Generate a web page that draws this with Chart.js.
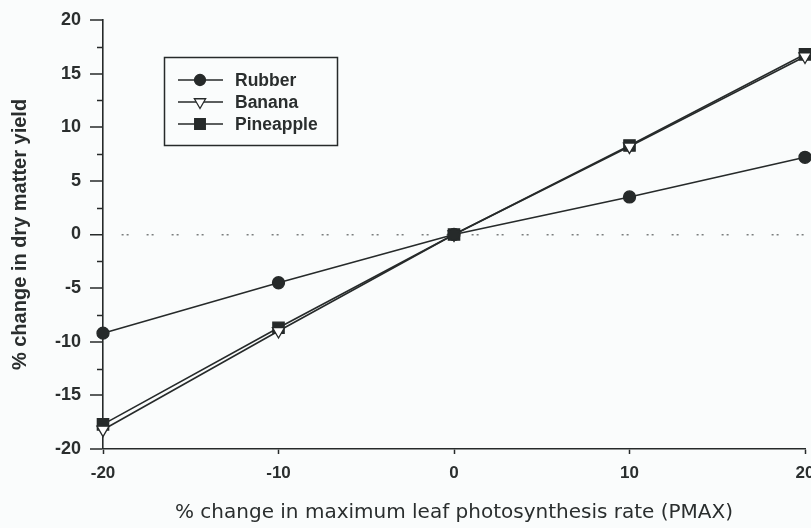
<!DOCTYPE html>
<html>
<head>
<meta charset="utf-8">
<script src="https://cdn.jsdelivr.net/npm/chart.js@4"></script>
<style>
  html, body { margin: 0; padding: 0; background: #fafcfc; }
  #wrap { width: 811px; height: 528px; position: relative; }
</style>
</head>
<body>
<div id="wrap"><canvas id="c" width="811" height="528"></canvas></div>
<script>
// ---- data ----
const pmaxChange = [-20, -10, 0, 10, 20];
const rubber     = [-9.2, -4.5, 0, 3.5, 7.2];
const banana     = [-18.2, -9.0, 0, 8.2, 16.6];
const pineapple  = [-17.7, -8.7, 0, 8.3, 16.8];
const seriesNames = ['Rubber', 'Banana', 'Pineapple'];
const xTickValues = [-20, -10, 0, 10, 20];
const yTickValues = [-20, -15, -10, -5, 0, 5, 10, 15, 20];

const INK = '#262a2a';
const toPts = arr => pmaxChange.map((x, i) => ({ x: x, y: arr[i] }));

const datasets = [
  { label: seriesNames[0], data: toPts(rubber), pointStyle: 'circle', pointRadius: 6,
    backgroundColor: INK, pointBackgroundColor: INK, rotation: 0 },
  { label: seriesNames[1], data: toPts(banana), pointStyle: 'triangle', pointRadius: 7,
    backgroundColor: '#ffffff', pointBackgroundColor: '#ffffff', rotation: 180 },
  { label: seriesNames[2], data: toPts(pineapple), pointStyle: 'rect', pointRadius: 8,
    backgroundColor: INK, pointBackgroundColor: INK, rotation: 0 }
].map(d => Object.assign({
  borderColor: INK, borderWidth: 1.6, pointBorderColor: INK, pointBorderWidth: 1.3,
  pointRotation: d.rotation, fill: false, tension: 0, clip: false
}, d));

// minor ticks (every 2.5 on y) + in-chart legend
const extras = {
  id: 'extras',
  afterDraw(chart) {
    const ctx = chart.ctx;
    const ys = chart.scales.y;
    ctx.save();
    ctx.strokeStyle = INK;
    ctx.lineWidth = 1.5;
    ys.ticks.forEach(t => {
      if (Math.abs(t.value % 5) > 1e-6) {
        const py = Math.round(ys.getPixelForValue(t.value)) + 0.5;
        ctx.beginPath();
        ctx.moveTo(ys.right - 6, py);
        ctx.lineTo(ys.right, py);
        ctx.stroke();
      }
    });
    // legend box
    const a = chart.chartArea;
    const bx = a.left + 61, by = a.top + 37, bw = 173, bh = 88;
    ctx.lineWidth = 1.5;
    ctx.strokeRect(bx + 0.5, by + 0.5, bw, bh);
    ctx.font = 'bold 17.5px "Liberation Sans", Arial, sans-serif';
    ctx.textBaseline = 'middle';
    ctx.textAlign = 'left';
    chart.data.datasets.forEach((ds, i) => {
      const ly = by + 23 + i * 22;
      ctx.strokeStyle = INK;
      ctx.lineWidth = 1.6;
      ctx.beginPath();
      ctx.moveTo(bx + 14, ly);
      ctx.lineTo(bx + 59, ly);
      ctx.stroke();
      ctx.fillStyle = ds.pointBackgroundColor;
      ctx.lineWidth = 1.3;
      Chart.helpers.drawPoint(ctx, {
        pointStyle: ds.pointStyle, radius: ds.pointRadius - 0.5,
        rotation: ds.pointRotation, borderWidth: 1.3
      }, bx + 36, ly);
      ctx.fillStyle = '#2a2e2e';
      ctx.fillText(ds.label, bx + 71, ly + 1);
    });
    ctx.restore();
  }
};

new Chart(document.getElementById('c'), {
  type: 'line',
  data: { datasets },
  options: {
    responsive: false,
    animation: false,
    devicePixelRatio: 1,
    layout: { autoPadding: false, padding: { top: 20, right: 6, left: 0, bottom: 0 } },
    plugins: { legend: { display: false }, tooltip: { enabled: false } },
    scales: {
      x: {
        type: 'linear', min: -20, max: 20,
        afterFit: s => { s.height = 79; s.paddingLeft = 0; s.paddingRight = 0; },
        afterBuildTicks: s => { s.ticks = xTickValues.map(v => ({ value: v })); },
        grid: { drawOnChartArea: false, drawTicks: true, tickLength: 5, tickColor: INK, tickWidth: 1.5 },
        border: { display: true, color: INK, width: 1.6 },
        ticks: { color: '#2a2e2e', padding: 9, font: { family: '"Liberation Sans", Arial, sans-serif', size: 17, weight: 'bold' } },
        title: { display: true, text: '% change in maximum leaf photosynthesis rate (PMAX)',
          color: '#2a2e2e', padding: { top: 0, bottom: 3 },
          font: { family: '"DejaVu Sans", Verdana, sans-serif', size: 20, weight: 'normal' } }
      },
      y: {
        type: 'linear', min: -20, max: 20,
        afterFit: s => { s.width = 103; s.paddingTop = 0; s.paddingBottom = 0; },
        ticks: {
          stepSize: 2.5, color: '#2a2e2e', padding: 9,
          font: { family: '"Liberation Sans", Arial, sans-serif', size: 18, weight: 'bold' },
          callback: v => (yTickValues.includes(v) ? String(v) : '')
        },
        grid: {
          drawOnChartArea: true, drawTicks: true, tickLength: 13,
          color: c => (c.tick && c.tick.value === 0 ? '#7a7e7e' : 'rgba(0,0,0,0)'),
          lineWidth: c => (c.tick && c.tick.value === 0 ? 1.5 : 0),
          tickColor: c => (c.tick && Math.abs(c.tick.value % 5) < 1e-6 ? INK : 'rgba(0,0,0,0)'),
          tickWidth: 1.5
        },
        border: { display: true, color: INK, width: 1.6, dash: [2, 3, 2, 18], dashOffset: -18 },
        title: { display: true, text: '% change in dry matter yield', color: '#2a2e2e',
          padding: { top: 8, bottom: 0 },
          font: { family: '"Liberation Sans", Arial, sans-serif', size: 20, weight: 'bold' } }
      }
    }
  },
  plugins: [extras]
});
</script>
</body>
</html>
